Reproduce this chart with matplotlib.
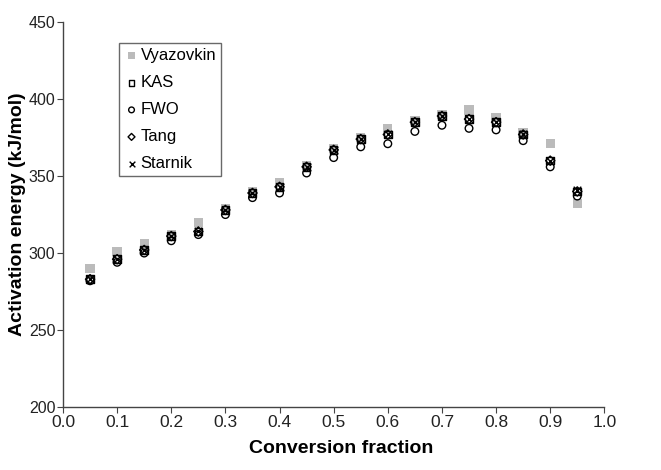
import matplotlib
matplotlib.use("Agg")
import matplotlib.pyplot as plt

plt.rcParams['font.family'] = ['Liberation Sans', 'DejaVu Sans']

alpha = [0.05, 0.10, 0.15, 0.20, 0.25, 0.30, 0.35, 0.40, 0.45, 0.50,
         0.55, 0.60, 0.65, 0.70, 0.75, 0.80, 0.85, 0.90, 0.95]
vyazovkin = [290, 301, 306, 312, 320, 329, 340, 346, 357, 368,
             375, 381, 386, 390, 393, 388, 378, 371, 332]
kas = [283, 296, 302, 311, 314, 328, 339, 343, 356, 367,
       374, 377, 385, 389, 387, 385, 377, 360, 340]
fwo = [282, 294, 300, 308, 312, 325, 336, 339, 352, 362,
       369, 371, 379, 383, 381, 380, 373, 356, 337]
tang = [283, 296, 302, 311, 314, 328, 339, 343, 356, 367,
        374, 377, 385, 389, 387, 385, 377, 360, 340]
starnik = [283, 296, 302, 311, 314, 328, 339, 343, 356, 367,
           374, 377, 385, 389, 387, 385, 377, 360, 341]

fig = plt.figure(figsize=(6.61, 4.70), dpi=100)
ax = fig.add_axes([0.0953, 0.134, 0.819, 0.819])

ax.scatter(alpha, vyazovkin, marker='s', s=45, color='#bbbbbb', edgecolors='none', label='Vyazovkin', zorder=2)
ax.scatter(alpha, kas, marker='s', s=30, facecolors='none', edgecolors='black', linewidths=1.0, label='KAS', zorder=3)
ax.scatter(alpha, fwo, marker='o', s=30, facecolors='none', edgecolors='black', linewidths=1.0, label='FWO', zorder=3)
ax.scatter(alpha, tang, marker='D', s=22, facecolors='none', edgecolors='black', linewidths=1.0, label='Tang', zorder=3)
ax.scatter(alpha, starnik, marker='x', s=30, color='black', linewidths=1.0, label='Starnik', zorder=4)

ax.set_xlim(0.0, 1.0)
ax.set_ylim(200, 450)
ax.set_xticks([i / 10 for i in range(11)])
ax.set_xticklabels([f"{i/10:.1f}" for i in range(11)])
ax.set_yticks(range(200, 451, 50))

for s in ['top', 'right']:
    ax.spines[s].set_visible(False)
for s in ['left', 'bottom']:
    ax.spines[s].set_color('#444444')
    ax.spines[s].set_linewidth(1.0)
ax.tick_params(axis='x', direction='out', length=4, color='#444444',
               labelsize=12.5, labelcolor='#222222', pad=2)
ax.tick_params(axis='y', direction='out', length=4, color='#444444',
               labelsize=11.5, labelcolor='#222222', pad=1.5)

ax.set_xlabel('Conversion fraction', fontsize=14, fontweight='bold')
ax.set_ylabel('Activation energy (kJ/mol)', fontsize=14, fontweight='bold')
ax.xaxis.set_label_coords(0.514, -0.085)
ax.yaxis.set_label_coords(-0.068, 0.5)

leg = ax.legend(loc='upper left', bbox_to_anchor=(0.1035, 0.945), fontsize=12, frameon=True,
                fancybox=False, edgecolor='#444444', labelspacing=0.72, handletextpad=0.1,
                handlelength=0.9, borderpad=0.3, borderaxespad=0, markerscale=0.75)
leg.get_frame().set_linewidth(1.0)

fig.savefig('out.png', dpi=100)
